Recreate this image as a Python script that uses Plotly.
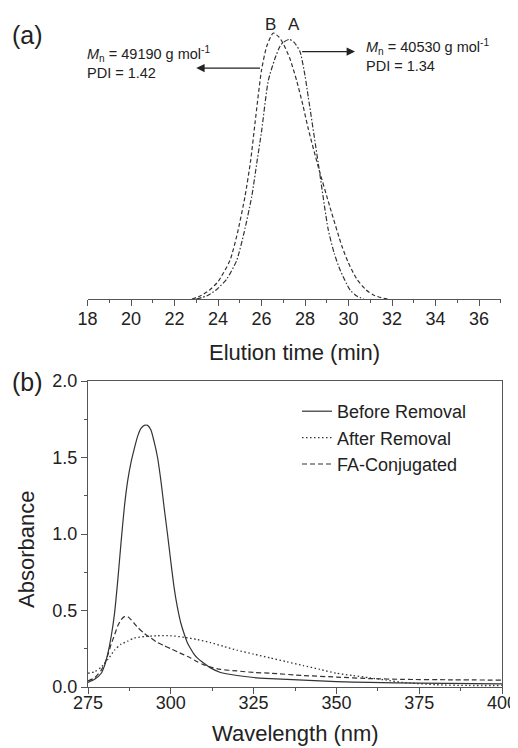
import plotly.graph_objects as go

# ---- (a) GPC traces ----
time_B = [22.8, 23.2, 23.6, 24.0, 24.55, 24.9, 25.24, 25.5, 25.7, 26.0, 26.24, 26.54, 26.8, 27.0,
          27.3, 27.62, 27.9, 28.15, 28.6, 29.15, 29.69, 30.0, 30.38, 30.8, 31.14, 31.5, 31.8]
sig_B = [0.0, 0.012, 0.033, 0.065, 0.145, 0.25, 0.385, 0.52, 0.66, 0.86, 0.95, 1.0, 0.985, 0.96,
         0.905, 0.82, 0.73, 0.64, 0.50, 0.345, 0.20, 0.135, 0.075, 0.035, 0.015, 0.005, 0.0]

time_A = [23.0, 23.5, 23.94, 24.4, 24.86, 25.2, 25.55, 25.8, 26.01, 26.31, 26.6, 26.85, 27.0, 27.28,
          27.5, 27.77, 28.0, 28.15, 28.61, 29.07, 29.35, 29.61, 30.07, 30.4, 30.7]
sig_A = [0.0, 0.012, 0.036, 0.075, 0.145, 0.25, 0.385, 0.52, 0.635, 0.82, 0.90, 0.95, 0.965, 0.976,
         0.965, 0.93, 0.84, 0.76, 0.51, 0.26, 0.17, 0.11, 0.034, 0.01, 0.0]

# ---- (b) UV-vis spectra ----
wl_before = [275, 277, 279, 280, 281, 282, 283, 284, 285, 286, 287, 288, 289, 290, 291, 292, 293, 294,
             295, 296, 297, 298, 299, 300, 301, 302, 303, 304, 305, 306, 307, 308, 310, 312, 315, 320,
             325, 330, 340, 350, 360, 375, 400]
abs_before = [0.03, 0.05, 0.09, 0.14, 0.22, 0.33, 0.48, 0.70, 0.95, 1.18, 1.35, 1.47, 1.56, 1.64, 1.69,
              1.71, 1.71, 1.68, 1.60, 1.50, 1.35, 1.17, 1.00, 0.82, 0.65, 0.52, 0.42, 0.35, 0.29, 0.25,
              0.215, 0.19, 0.155, 0.125, 0.095, 0.075, 0.062, 0.055, 0.045, 0.035, 0.03, 0.025, 0.02]

wl_after = [275, 277, 279, 281, 283, 285, 287, 289, 292, 296, 300, 304, 308, 312, 316, 320, 325, 330,
            335, 340, 345, 350, 355, 360, 365, 370, 380, 390, 400]
abs_after = [0.09, 0.10, 0.13, 0.18, 0.24, 0.28, 0.30, 0.32, 0.33, 0.335, 0.335, 0.325, 0.31, 0.29,
             0.265, 0.24, 0.215, 0.19, 0.165, 0.14, 0.115, 0.09, 0.075, 0.06, 0.045, 0.03, 0.015,
             0.01, 0.01]

wl_fa = [275, 277, 279, 280, 281, 282, 283, 284, 285, 286, 287, 288, 290, 292, 294, 296, 298, 300, 302,
         304, 306, 308, 310, 312, 315, 320, 325, 330, 340, 350, 360, 370, 385, 400]
abs_fa = [0.04, 0.06, 0.11, 0.15, 0.21, 0.28, 0.34, 0.40, 0.44, 0.46, 0.46, 0.44, 0.39, 0.35, 0.32,
          0.29, 0.27, 0.25, 0.23, 0.21, 0.19, 0.165, 0.145, 0.13, 0.115, 0.105, 0.095, 0.09, 0.075,
          0.065, 0.055, 0.05, 0.047, 0.045]

# page offset (body margin) compensation: figure occupies window pixels 8..518 x 8..748
OFF = 8
W, H = 518 - OFF, 748 - OFF
LC = "#333333"
AX = "#555555"
FONT = "Liberation Sans, Arial, sans-serif"

def fx(px):
    return (px - OFF) / W

def fy(py):
    return 1 - (py - OFF) / H

fig = go.Figure()

fig.add_trace(go.Scatter(x=time_B, y=sig_B, mode="lines", xaxis="x", yaxis="y",
                         line=dict(color=LC, width=1.2, dash="4px,2.5px", shape="spline", smoothing=0.6),
                         showlegend=False))
fig.add_trace(go.Scatter(x=time_A, y=sig_A, mode="lines", xaxis="x", yaxis="y",
                         line=dict(color=LC, width=1.2, dash="5px,2px,1.5px,2px", shape="spline", smoothing=0.6),
                         showlegend=False))

fig.add_trace(go.Scatter(x=wl_before, y=abs_before, mode="lines", xaxis="x2", yaxis="y2",
                         name="Before Removal",
                         line=dict(color=LC, width=1.2, shape="spline", smoothing=0.6)))
fig.add_trace(go.Scatter(x=wl_after, y=abs_after, mode="lines", xaxis="x2", yaxis="y2",
                         name="After Removal",
                         line=dict(color=LC, width=1.3, dash="1.5px,2.5px", shape="spline", smoothing=0.6)))
fig.add_trace(go.Scatter(x=wl_fa, y=abs_fa, mode="lines", xaxis="x2", yaxis="y2",
                         name="FA-Conjugated",
                         line=dict(color=LC, width=1.2, dash="5px,3px", shape="spline", smoothing=0.6)))

tickfont = dict(family=FONT, size=18, color="#222")

fig.update_layout(
    width=W, height=H,
    margin=dict(l=0, r=0, t=0, b=0, autoexpand=False),
    paper_bgcolor="white", plot_bgcolor="white",
    font=dict(family=FONT, color="#222"),
    xaxis=dict(domain=[fx(87.5), fx(500.75)], range=[18, 37], anchor="y",
               showline=True, linecolor=AX, linewidth=1.2, showgrid=False, zeroline=False,
               ticks="outside", ticklen=6, tickwidth=1.1, tickcolor=AX,
               tick0=18, dtick=2, tickfont=tickfont, ticklabelstandoff=-3,
               minor=dict(ticks="outside", ticklen=3, dtick=1, tickcolor=AX, tickwidth=1.0)),
    yaxis=dict(domain=[fy(299), fy(8)], range=[0, 1.1 * (299 - 8) / (299 - 6.4)], anchor="x",
               visible=False, showgrid=False, zeroline=False),
    xaxis2=dict(domain=[fx(88), fx(502)], range=[275, 400], anchor="y2",
                showline=True, mirror=True, linecolor=AX, linewidth=1.2, showgrid=False, zeroline=False,
                ticks="outside", ticklen=6, tickwidth=1.1, tickcolor=AX,
                tick0=275, dtick=25, tickfont=tickfont, ticklabelstandoff=-7,
                minor=dict(ticks="outside", ticklen=3, dtick=12.5, tickcolor=AX, tickwidth=1.0)),
    yaxis2=dict(domain=[fy(687), fy(381)], range=[0, 2.0], anchor="x2",
                showline=True, mirror=True, linecolor=AX, linewidth=1.2, showgrid=False, zeroline=False,
                ticks="outside", ticklen=6, tickwidth=1.1, tickcolor=AX,
                tick0=0, dtick=0.5, tickformat=".1f", tickfont=tickfont,
                minor=dict(ticks="outside", ticklen=3, dtick=0.25, tickcolor=AX, tickwidth=1.0)),
    legend=dict(x=fx(297), y=fy(393), xanchor="left", yanchor="top",
                font=dict(family=FONT, size=18, color="#222"),
                bgcolor="rgba(0,0,0,0)", tracegroupgap=0),
)

def label(text, px, py, size, **kw):
    d = dict(text=text, x=fx(px), y=fy(py), xref="paper", yref="paper", showarrow=False,
             xanchor="center", yanchor="middle", font=dict(family=FONT, size=size, color="#222"))
    d.update(kw)
    return d

ann = []
# panel labels
ann.append(label("(a)", 27, 35, 25))
ann.append(label("(b)", 27, 382, 25))
# axis titles
ann.append(label("Elution time (min)", 294, 352, 22))
ann.append(label("Wavelength (nm)", 295, 733, 22))
ann.append(label("Absorbance", 26, 550, 22, textangle=-90))
# peak labels
ann.append(label("B", 270, 24, 17))
ann.append(label("A", 294, 24, 17))
# Mn / PDI texts
ann.append(label("<i>M</i><sub>n</sub> = 49190 g mol<sup>-1</sup><br>PDI = 1.42", 85, 42, 14.5,
                 xanchor="left", yanchor="top", align="left"))
ann.append(label("<i>M</i><sub>n</sub> = 40530 g mol<sup>-1</sup><br>PDI = 1.34", 364, 35, 14.5,
                 xanchor="left", yanchor="top", align="left"))
# arrows (in data coordinates of panel a)
ann.append(dict(text="", x=23.0, y=0.868, ax=26.0, ay=0.868, xref="x", yref="y", axref="x", ayref="y",
                showarrow=True, arrowhead=2, arrowsize=1.4, arrowwidth=1.2, arrowcolor="#222"))
ann.append(dict(text="", x=30.3, y=0.93, ax=27.8, ay=0.93, xref="x", yref="y", axref="x", ayref="y",
                showarrow=True, arrowhead=2, arrowsize=1.4, arrowwidth=1.2, arrowcolor="#222"))

fig.update_layout(annotations=ann)

fig.write_html("out.html")
